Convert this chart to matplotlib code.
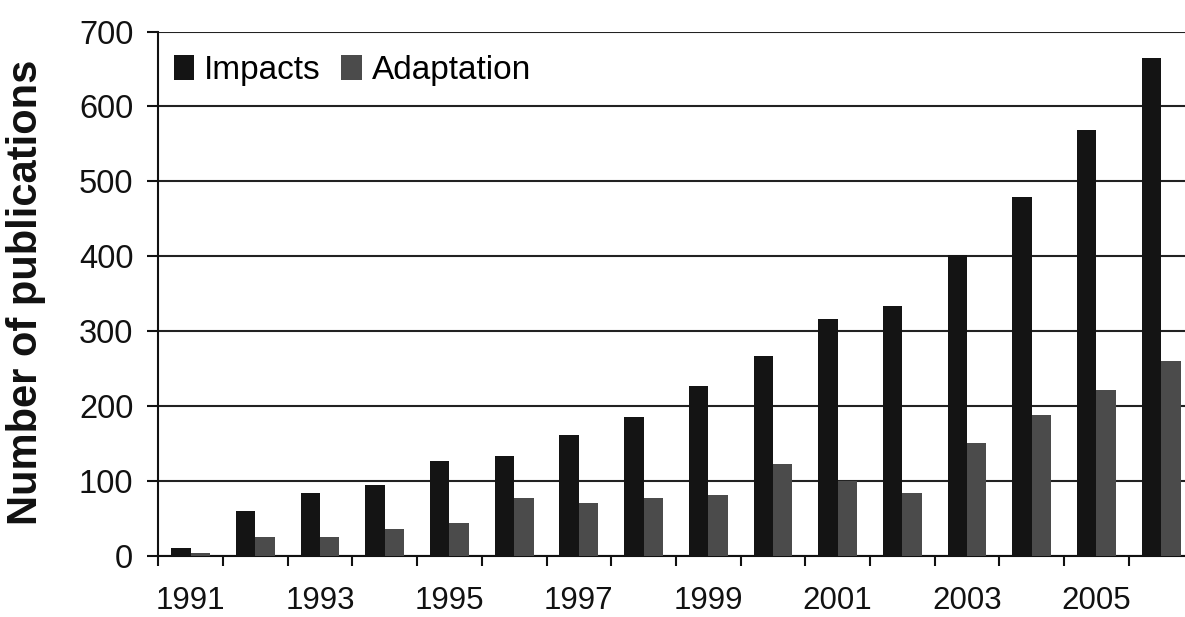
import matplotlib
matplotlib.use("Agg")
import matplotlib.pyplot as plt
import numpy as np
from matplotlib.patches import Patch
from matplotlib.ticker import FixedLocator

years = list(range(1991, 2007))
impacts = [10, 60, 83, 94, 126, 133, 161, 185, 227, 266, 316, 333, 402, 479, 568, 665]
adaptation = [4, 25, 25, 36, 44, 77, 70, 77, 81, 122, 100, 83, 150, 188, 221, 260]
yticks = [0, 100, 200, 300, 400, 500, 600, 700]
xtick_labels = ["1991", "1993", "1995", "1997", "1999", "2001", "2003", "2005"]

plt.rcParams['font.family'] = ['Liberation Sans', 'DejaVu Sans']

W, H = 1185, 617
fig = plt.figure(figsize=(W / 100, H / 100), dpi=100)
left = 158.3 / W
bottom = 1 - 555.5 / H
top = 1 - 31.5 / H
ax = fig.add_axes([left, bottom, 1 - left, top - bottom])

x = np.arange(len(years))
bw = 0.30
c_imp = '#141414'
c_ada = '#4b4b4b'
ax.bar(x - bw / 2, impacts, bw, color=c_imp, zorder=3)
ax.bar(x + bw / 2, adaptation, bw, color=c_ada, zorder=3)

right_lim = (W - 158.3) / 64.7 - 0.5
ax.set_xlim(-0.5, right_lim)
ax.set_ylim(0, 700)

for s in ['top', 'right']:
    ax.spines[s].set_visible(False)
for s in ['left', 'bottom']:
    ax.spines[s].set_linewidth(1.5)
    ax.spines[s].set_color('#111111')

ax.yaxis.grid(True, color='#222222', linewidth=1.5, zorder=0)
ax.set_axisbelow(True)
ax.set_yticks(yticks)
ax.set_yticklabels([str(v) for v in yticks])
ax.tick_params(axis='y', direction='out', length=8, width=1.5, pad=10,
               labelsize=23.5, colors='#111111')

ax.xaxis.set_major_locator(FixedLocator(list(x[::2])))
ax.set_xticklabels(xtick_labels)
ax.xaxis.set_minor_locator(FixedLocator(list(np.arange(-0.5, 16, 1.0))))
ax.tick_params(axis='x', which='major', length=0, pad=22, labelsize=22.5,
               colors='#111111')
ax.tick_params(axis='x', which='minor', direction='out', length=7.2, width=1.5,
               color='#111111')

handles = [Patch(facecolor=c_imp, edgecolor='none', label='Impacts'),
           Patch(facecolor=c_ada, edgecolor='none', label='Adaptation')]
ax.legend(handles=handles, loc='upper left', bbox_to_anchor=(0.015, 0.955),
          ncol=2, frameon=False, fontsize=24, handlelength=0.62,
          handleheight=0.75, handletextpad=0.3, columnspacing=0.6,
          borderaxespad=0, borderpad=0)

fig.text(26 / W, 1 - 292 / H, 'Number of publications', rotation=90,
         ha='center', va='center', fontsize=30, fontweight='bold',
         color='#111111')

fig.savefig('out.png', dpi=100)
